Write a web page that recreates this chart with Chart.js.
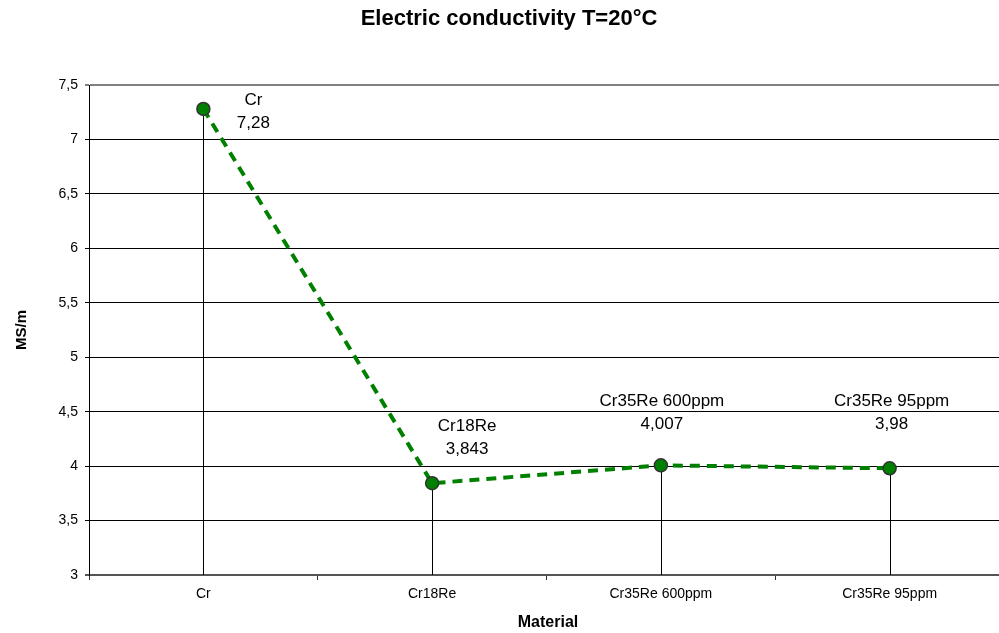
<!DOCTYPE html>
<html>
<head>
<meta charset="utf-8">
<script src="https://cdn.jsdelivr.net/npm/chart.js@4/dist/chart.umd.min.js"></script>
<style>
  html, body { margin: 0; padding: 0; background: #fff; overflow: hidden; }
  #wrap { width: 999px; height: 633px; overflow: hidden; position: relative; }
  canvas { display: block; }
</style>
</head>
<body>
<div id="wrap"><canvas id="c" width="1012" height="633" style="width:1012px;height:633px"></canvas></div>
<script>
// Materials measured and their conductivity (MS/m) at 20 °C
const materials = ['Cr', 'Cr18Re', 'Cr35Re 600ppm', 'Cr35Re 95ppm'];
const conductivity = [7.28, 3.843, 4.007, 3.98];

// Value axis range
const yMin = 3;
const yMax = 7.5;
const yStep = 0.5;

const FONT = '"Liberation Sans", Arial, sans-serif';
const comma = v => String(v).replace('.', ',');

// Where each point's label sits relative to its marker (dx, dy of the first line's centre)
const labelOffsets = [[50, -9], [35, -57], [1, -64], [2, -67]];

const decorations = {
  id: 'decorations',
  beforeDatasetsDraw(chart) {
    const ctx = chart.ctx;
    const meta = chart.getDatasetMeta(0);
    const bottom = chart.chartArea.bottom;
    ctx.save();
    ctx.strokeStyle = '#000';
    ctx.lineWidth = 1;
    meta.data.forEach(pt => {
      const x = Math.round(pt.x) + 0.5;
      ctx.beginPath();
      ctx.moveTo(x, pt.y);
      ctx.lineTo(x, bottom);
      ctx.stroke();
    });
    ctx.restore();
  },
  afterDatasetsDraw(chart) {
    const ctx = chart.ctx;
    const meta = chart.getDatasetMeta(0);
    ctx.save();
    ctx.fillStyle = '#000';
    ctx.font = '17px ' + FONT;
    ctx.textAlign = 'center';
    ctx.textBaseline = 'middle';
    meta.data.forEach((pt, i) => {
      const [dx, dy] = labelOffsets[i];
      ctx.fillText(materials[i], pt.x + dx, pt.y + dy);
      ctx.fillText(comma(conductivity[i]), pt.x + dx, pt.y + dy + 23);
    });
    ctx.restore();
  },
  afterDraw(chart) {
    const ctx = chart.ctx;
    ctx.save();
    ctx.fillStyle = '#000';
    ctx.textAlign = 'center';
    ctx.textBaseline = 'middle';
    ctx.font = 'bold 22px ' + FONT;
    ctx.fillText('Electric conductivity T=20°C', 509, 19);
    ctx.font = 'bold 16px ' + FONT;
    ctx.fillText('Material', 548, 623);
    ctx.translate(22, 330);
    ctx.rotate(-Math.PI / 2);
    ctx.font = 'bold 15px ' + FONT;
    ctx.fillText('MS/m', 0, 0);
    ctx.restore();
  }
};

new Chart(document.getElementById('c'), {
  type: 'line',
  data: {
    labels: materials,
    datasets: [{
      data: conductivity,
      borderColor: '#008000',
      borderWidth: 4,
      borderDash: [10, 7],
      tension: 0,
      fill: false,
      pointRadius: 6.5,
      pointBackgroundColor: '#008000',
      pointBorderColor: '#333',
      pointBorderWidth: 1.5,
      clip: false
    }]
  },
  options: {
    responsive: false,
    devicePixelRatio: 1,
    animation: false,
    events: [],
    layout: { padding: { top: 85, right: 1, left: 0, bottom: 0 } },
    plugins: { legend: { display: false }, tooltip: { enabled: false }, title: { display: false } },
    scales: {
      x: {
        offset: true,
        grid: {
          offset: true,
          drawOnChartArea: false,
          drawTicks: true,
          tickLength: 5,
          color: '#333'
        },
        border: { color: '#555', width: 2 },
        ticks: {
          color: '#000',
          font: { family: FONT, size: 14 },
          padding: 6,
          maxRotation: 0,
          autoSkip: false
        },
        afterFit(s) { s.height = 58; }
      },
      y: {
        min: yMin,
        max: yMax,
        grid: {
          color: c => (c.tick && (c.tick.value === yMax) ? '#808080' : (c.tick && c.tick.value === yMin ? '#555' : '#000')),
          lineWidth: c => (c.tick && (c.tick.value === yMax || c.tick.value === yMin) ? 2 : 1),
          tickLength: 4
        },
        border: { color: '#000', width: 1 },
        ticks: {
          stepSize: yStep,
          color: '#000',
          font: { family: FONT, size: 14 },
          padding: 7,
          callback: v => comma(v)
        },
        afterFit(s) { s.width = 89; }
      }
    }
  },
  plugins: [decorations]
});
</script>
</body>
</html>
